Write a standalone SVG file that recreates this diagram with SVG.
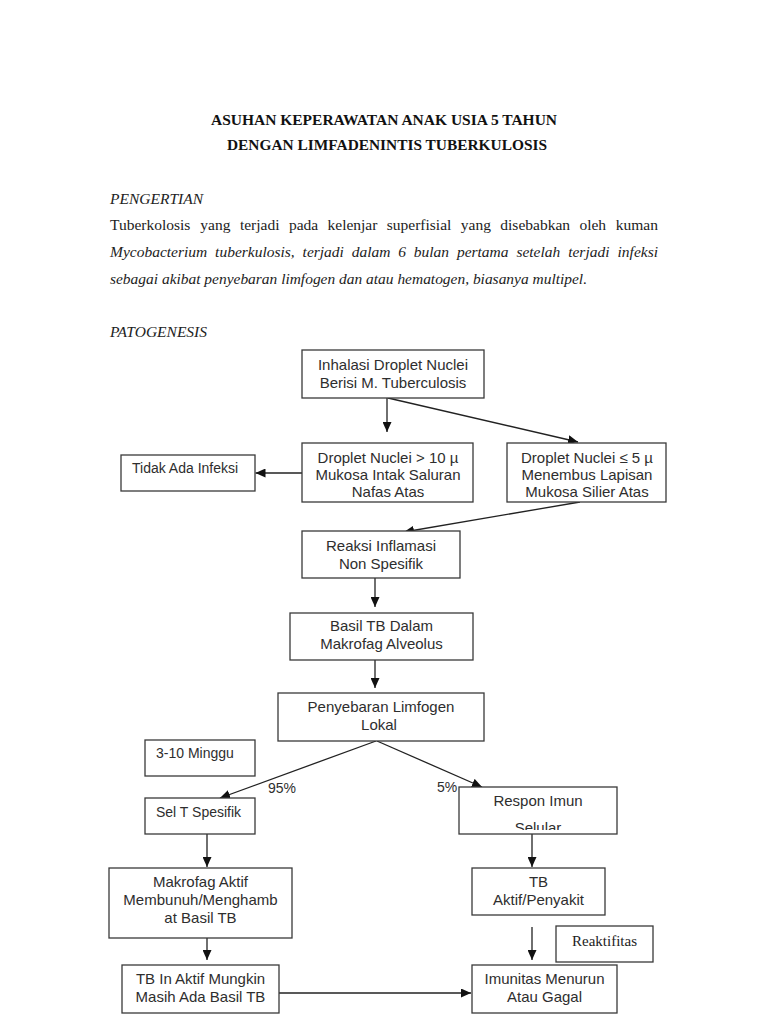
<svg xmlns="http://www.w3.org/2000/svg" width="768" height="1024" viewBox="0 0 768 1024">
<style>
.bg{fill:#ffffff}
.box{fill:#ffffff;stroke:#3a3a3a;stroke-width:1.3}
.t{font-family:"Liberation Sans",Arial,sans-serif;font-size:15px;fill:#2e2e2e;text-anchor:middle}
.ts{font-family:"Liberation Sans",Arial,sans-serif;font-size:14px;fill:#2e2e2e}
.lbl{font-family:"Liberation Sans",Arial,sans-serif;font-size:14px;fill:#2e2e2e}
.serif{font-family:"Liberation Serif","Times New Roman",serif;font-size:15.5px;fill:#222}
.rk{font-family:"Liberation Serif","Times New Roman",serif;font-size:15px;fill:#222;text-anchor:middle}
.title{font-family:"Liberation Serif","Times New Roman",serif;font-size:14px;font-weight:bold;fill:#111;text-anchor:middle}
.it{font-style:italic}
.conn line{stroke:#222;stroke-width:1.3;fill:none}
</style>
<defs>
<marker id="arr" markerUnits="userSpaceOnUse" markerWidth="10" markerHeight="9" viewBox="0 0 10 9" refX="10" refY="4.5" orient="auto">
<path d="M0,0 L10,4.5 L0,9 z" fill="#111"/>
</marker>
<clipPath id="clipRespon"><rect x="459" y="787" width="158" height="43"/></clipPath>
</defs>
<rect class="bg" x="0" y="0" width="768" height="1024"/>

<g id="header">
<text class="title" x="384" y="125" textLength="346" lengthAdjust="spacingAndGlyphs">ASUHAN KEPERAWATAN ANAK USIA 5 TAHUN</text>
<text class="title" x="387" y="150" textLength="320" lengthAdjust="spacingAndGlyphs">DENGAN LIMFADENINTIS TUBERKULOSIS</text>
<text class="serif it" x="110" y="204">PENGERTIAN</text>
<g class="serif">
<text x="110" y="230">Tuberkolosis</text>
<text x="200.3" y="230">yang</text>
<text x="239.9" y="230">terjadi</text>
<text x="288.9" y="230">pada</text>
<text x="327.5" y="230">kelenjar</text>
<text x="386.8" y="230">superfisial</text>
<text x="460.8" y="230">yang</text>
<text x="500.3" y="230">disebabkan</text>
<text x="579.4" y="230">oleh</text>
<text x="658" y="230" text-anchor="end">kuman</text>
</g>
<g class="serif it">
<text x="110" y="257">Mycobacterium</text>
<text x="215.1" y="257">tuberkulosis,</text>
<text x="302.6" y="257">terjadi</text>
<text x="351.7" y="257">dalam</text>
<text x="398.2" y="257">6</text>
<text x="413.8" y="257">bulan</text>
<text x="456.9" y="257">pertama</text>
<text x="516.4" y="257">setelah</text>
<text x="568.2" y="257">terjadi</text>
<text x="658" y="257" text-anchor="end">infeksi</text>
<text x="110" y="284" textLength="477" lengthAdjust="spacingAndGlyphs">sebagai akibat penyebaran limfogen dan atau hematogen, biasanya multipel.</text>
</g>
<text class="serif it" x="110" y="337">PATOGENESIS</text>
</g>

<g id="connectors" class="conn">
<line x1="387" y1="398" x2="387" y2="432" marker-end="url(#arr)"/>
<line x1="388" y1="398" x2="578" y2="442" marker-end="url(#arr)"/>
<line x1="302" y1="473" x2="255.5" y2="473" marker-end="url(#arr)"/>
<line x1="580" y1="502" x2="404" y2="532" marker-end="url(#arr)"/>
<line x1="375" y1="578" x2="375" y2="607" marker-end="url(#arr)"/>
<line x1="375" y1="660" x2="375" y2="688" marker-end="url(#arr)"/>
<line x1="376" y1="741" x2="220" y2="798" marker-end="url(#arr)"/>
<line x1="377" y1="741" x2="482" y2="787" marker-end="url(#arr)"/>
<line x1="207" y1="834" x2="207" y2="867" marker-end="url(#arr)"/>
<line x1="532" y1="834" x2="532" y2="867" marker-end="url(#arr)"/>
<line x1="207" y1="927" x2="207" y2="960" marker-end="url(#arr)"/>
<line x1="532" y1="927" x2="532" y2="960" marker-end="url(#arr)"/>
<line x1="279" y1="993" x2="471" y2="993" marker-end="url(#arr)"/>
<text class="lbl" x="268" y="793">95%</text>
<text class="lbl" x="437" y="792">5%</text>
</g>

<g id="n-inhalasi">
<rect class="box" x="302" y="350" width="182" height="48"/>
<text class="t" x="393" y="370">Inhalasi Droplet Nuclei</text>
<text class="t" x="393" y="388">Berisi M. Tuberculosis</text>
</g>
<g id="n-droplet10">
<rect class="box" x="302" y="443" width="171" height="59"/>
<text class="t" x="388" y="463">Droplet Nuclei &gt; 10 µ</text>
<text class="t" x="388" y="480">Mukosa Intak Saluran</text>
<text class="t" x="388" y="497">Nafas Atas</text>
</g>
<g id="n-droplet5">
<rect class="box" x="507" y="443" width="159" height="59"/>
<text class="t" x="587" y="463">Droplet Nuclei ≤ 5 µ</text>
<text class="t" x="587" y="480">Menembus Lapisan</text>
<text class="t" x="587" y="497">Mukosa Silier Atas</text>
</g>
<g id="n-tidak">
<rect class="box" x="121" y="455" width="134" height="36"/>
<text class="ts" x="132" y="473">Tidak Ada Infeksi</text>
</g>
<g id="n-reaksi">
<rect class="box" x="302" y="531" width="158" height="47"/>
<text class="t" x="381" y="551">Reaksi Inflamasi</text>
<text class="t" x="381" y="569">Non Spesifik</text>
</g>
<g id="n-basil">
<rect class="box" x="290" y="613" width="183" height="47"/>
<text class="t" x="381.5" y="631">Basil TB Dalam</text>
<text class="t" x="381.5" y="649">Makrofag Alveolus</text>
</g>
<g id="n-penyebaran">
<rect class="box" x="278" y="693" width="206" height="48"/>
<text class="t" x="381" y="712">Penyebaran Limfogen</text>
<text class="t" x="379" y="730">Lokal</text>
</g>
<g id="n-minggu">
<rect class="box" x="145" y="740" width="110" height="36"/>
<text class="ts" x="156" y="758">3-10 Minggu</text>
</g>
<g id="n-selt">
<rect class="box" x="145" y="798" width="110" height="36"/>
<text class="ts" x="156" y="817">Sel T Spesifik</text>
</g>
<g id="n-respon">
<rect class="box" x="459" y="787" width="158" height="47"/>
<text class="t" x="538" y="806">Respon Imun</text>
<text class="t" x="538" y="833" clip-path="url(#clipRespon)">Selular</text>
</g>
<g id="n-makrofag">
<rect class="box" x="109" y="868" width="183" height="70"/>
<text class="t" x="200.5" y="887">Makrofag Aktif</text>
<text class="t" x="200.5" y="905">Membunuh/Menghamb</text>
<text class="t" x="200.5" y="923">at Basil TB</text>
</g>
<g id="n-tbaktif">
<rect class="box" x="472" y="868" width="133" height="47"/>
<text class="t" x="538.5" y="887">TB</text>
<text class="t" x="538.5" y="905">Aktif/Penyakit</text>
</g>
<g id="n-reaktifitas">
<rect class="box" x="556" y="926" width="97" height="36"/>
<text class="rk" x="604.5" y="946">Reaktifitas</text>
</g>
<g id="n-tbinaktif">
<rect class="box" x="122" y="965" width="157" height="48"/>
<text class="t" x="200.5" y="984">TB In Aktif Mungkin</text>
<text class="t" x="200.5" y="1002">Masih Ada Basil TB</text>
</g>
<g id="n-imunitas">
<rect class="box" x="472" y="965" width="145" height="48"/>
<text class="t" x="544.5" y="984">Imunitas Menurun</text>
<text class="t" x="544.5" y="1002">Atau Gagal</text>
</g>
</svg>
